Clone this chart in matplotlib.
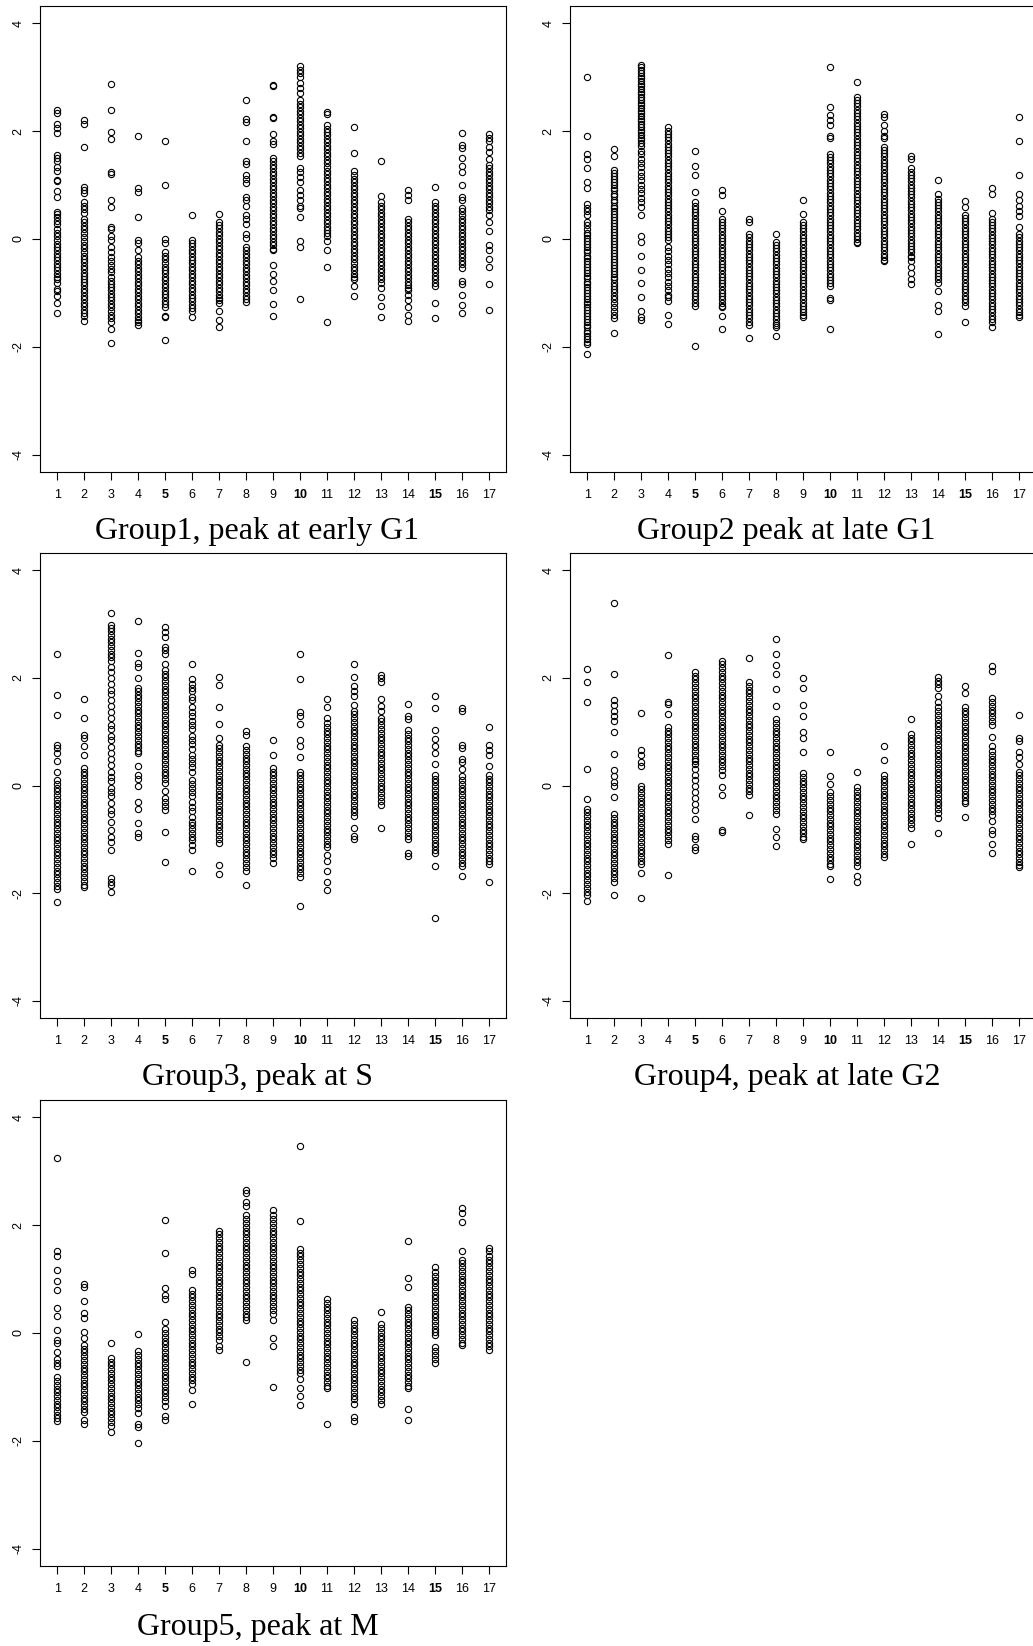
import matplotlib
matplotlib.use("Agg")
import matplotlib.pyplot as plt

plt.rcParams['font.family'] = ['Liberation Sans', 'DejaVu Sans']

# expression values per time point (17 columns)
group1 = [
    [2.40, 2.33, 2.14, 2.05, 1.96, 1.56, 1.50, 1.45, 1.33, 1.26, 1.10, 1.08, 0.89, 0.78, 0.50, 0.46, 0.41, 0.33, 0.27, 0.19, 0.12, 0.05, -0.02, -0.09, -0.15, -0.21, -0.28, -0.33, -0.39, -0.46, -0.52, -0.57, -0.64, -0.70, -0.75, -0.81, -0.92, -0.97, -1.06, -1.18, -1.38],
    [2.20, 2.14, 1.71, 0.97, 0.90, 0.85, 0.68, 0.62, 0.56, 0.49, 0.38, 0.31, 0.25, 0.19, 0.12, 0.03, -0.04, -0.11, -0.17, -0.24, -0.31, -0.37, -0.43, -0.50, -0.56, -0.63, -0.69, -0.74, -0.80, -0.86, -0.93, -0.99, -1.05, -1.12, -1.18, -1.24, -1.31, -1.37, -1.43, -1.52],
    [2.88, 2.39, 1.99, 1.85, 1.24, 1.20, 0.72, 0.60, 0.22, 0.19, 0.05, -0.01, -0.15, -0.25, -0.34, -0.41, -0.48, -0.55, -0.61, -0.71, -0.77, -0.83, -0.89, -0.95, -1.02, -1.08, -1.14, -1.21, -1.27, -1.33, -1.40, -1.47, -1.54, -1.67, -1.93],
    [1.91, 0.95, 0.88, 0.40, -0.01, -0.08, -0.21, -0.34, -0.41, -0.47, -0.54, -0.60, -0.67, -0.73, -0.80, -0.86, -0.92, -0.99, -1.05, -1.11, -1.18, -1.24, -1.31, -1.37, -1.44, -1.50, -1.54, -1.60],
    [1.82, 1.01, 0.00, -0.08, -0.25, -0.31, -0.38, -0.44, -0.51, -0.57, -0.63, -0.70, -0.76, -0.83, -0.89, -0.96, -1.02, -1.08, -1.15, -1.21, -1.27, -1.42, -1.44, -1.87],
    [0.45, -0.01, -0.07, -0.13, -0.20, -0.26, -0.33, -0.39, -0.45, -0.52, -0.58, -0.64, -0.71, -0.77, -0.84, -0.90, -0.96, -1.03, -1.09, -1.15, -1.22, -1.28, -1.34, -1.44],
    [0.47, 0.32, 0.26, 0.20, 0.13, 0.07, 0.00, -0.06, -0.13, -0.19, -0.26, -0.32, -0.39, -0.45, -0.52, -0.58, -0.64, -0.71, -0.77, -0.84, -0.90, -0.97, -1.03, -1.09, -1.14, -1.18, -1.34, -1.50, -1.64],
    [2.57, 2.22, 2.17, 1.82, 1.44, 1.39, 1.18, 1.11, 1.03, 0.78, 0.72, 0.62, 0.45, 0.37, 0.28, 0.09, 0.02, -0.15, -0.21, -0.28, -0.34, -0.41, -0.47, -0.54, -0.60, -0.67, -0.73, -0.80, -0.86, -0.93, -0.99, -1.06, -1.12, -1.16],
    [2.85, 2.83, 2.27, 2.24, 1.94, 1.81, 1.77, 1.51, 1.45, 1.38, 1.31, 1.25, 1.18, 1.12, 1.05, 0.99, 0.92, 0.86, 0.79, 0.72, 0.66, 0.59, 0.53, 0.46, 0.40, 0.33, 0.27, 0.20, 0.14, 0.07, 0.01, -0.06, -0.12, -0.19, -0.21, -0.48, -0.64, -0.77, -0.95, -1.21, -1.42],
    [3.20, 3.13, 3.07, 3.00, 2.89, 2.80, 2.70, 2.57, 2.51, 2.44, 2.38, 2.31, 2.25, 2.18, 2.12, 2.05, 1.99, 1.92, 1.86, 1.79, 1.73, 1.66, 1.60, 1.53, 1.31, 1.25, 1.15, 1.05, 0.91, 0.81, 0.72, 0.62, 0.58, 0.40, -0.03, -0.15, -1.12],
    [2.35, 2.32, 2.11, 2.04, 1.98, 1.92, 1.85, 1.79, 1.72, 1.66, 1.59, 1.53, 1.46, 1.40, 1.33, 1.27, 1.20, 1.14, 1.07, 1.01, 0.94, 0.88, 0.81, 0.75, 0.68, 0.62, 0.55, 0.49, 0.42, 0.36, 0.29, 0.23, 0.16, 0.12, 0.05, -0.03, -0.21, -0.51, -1.54],
    [2.07, 1.59, 1.26, 1.18, 1.12, 1.05, 0.99, 0.92, 0.86, 0.79, 0.73, 0.66, 0.60, 0.53, 0.47, 0.40, 0.34, 0.27, 0.21, 0.14, 0.08, 0.01, -0.05, -0.12, -0.18, -0.25, -0.31, -0.38, -0.44, -0.51, -0.57, -0.64, -0.70, -0.74, -0.87, -1.06],
    [1.44, 0.80, 0.68, 0.62, 0.55, 0.49, 0.42, 0.36, 0.29, 0.23, 0.16, 0.10, 0.03, -0.03, -0.10, -0.16, -0.23, -0.29, -0.36, -0.42, -0.49, -0.55, -0.62, -0.68, -0.75, -0.81, -0.91, -1.07, -1.24, -1.44],
    [0.91, 0.81, 0.72, 0.38, 0.32, 0.25, 0.19, 0.12, 0.06, -0.01, -0.07, -0.14, -0.20, -0.27, -0.33, -0.40, -0.46, -0.53, -0.59, -0.66, -0.72, -0.79, -0.85, -0.91, -0.94, -1.04, -1.14, -1.26, -1.40, -1.52],
    [0.97, 0.68, 0.62, 0.55, 0.49, 0.42, 0.36, 0.29, 0.23, 0.16, 0.10, 0.03, -0.03, -0.10, -0.16, -0.23, -0.29, -0.36, -0.42, -0.49, -0.55, -0.62, -0.68, -0.75, -0.81, -0.87, -1.19, -1.46],
    [1.96, 1.74, 1.68, 1.51, 1.36, 1.25, 1.01, 0.78, 0.72, 0.58, 0.51, 0.45, 0.38, 0.32, 0.25, 0.19, 0.12, 0.06, -0.01, -0.07, -0.14, -0.20, -0.27, -0.33, -0.40, -0.46, -0.54, -0.77, -0.84, -1.04, -1.22, -1.37],
    [1.95, 1.87, 1.81, 1.71, 1.61, 1.48, 1.38, 1.31, 1.25, 1.18, 1.12, 1.05, 0.99, 0.92, 0.86, 0.79, 0.73, 0.66, 0.60, 0.53, 0.45, 0.32, 0.15, -0.11, -0.21, -0.38, -0.51, -0.84, -1.32],
]

group2 = [
    [3.01, 1.91, 1.58, 1.48, 1.32, 1.05, 0.95, 0.64, 0.58, 0.52, 0.45, 0.32, 0.26, 0.19, 0.12, 0.07, 0.02, -0.04, -0.09, -0.15, -0.20, -0.25, -0.31, -0.36, -0.41, -0.47, -0.52, -0.57, -0.63, -0.68, -0.73, -0.79, -0.84, -0.89, -0.95, -1.00, -1.05, -1.11, -1.16, -1.21, -1.27, -1.32, -1.38, -1.43, -1.48, -1.54, -1.59, -1.64, -1.70, -1.75, -1.80, -1.86, -1.91, -1.95, -2.13],
    [1.66, 1.53, 1.28, 1.23, 1.17, 1.12, 1.06, 1.01, 0.95, 0.90, 0.84, 0.79, 0.73, 0.68, 0.62, 0.57, 0.51, 0.46, 0.40, 0.35, 0.29, 0.24, 0.18, 0.13, 0.07, 0.02, -0.04, -0.09, -0.15, -0.20, -0.26, -0.31, -0.37, -0.42, -0.48, -0.53, -0.59, -0.64, -0.70, -0.75, -0.81, -0.87, -0.93, -0.98, -1.05, -1.12, -1.19, -1.26, -1.33, -1.40, -1.47, -1.74],
    [3.23, 3.18, 3.13, 3.08, 3.03, 2.98, 2.93, 2.88, 2.83, 2.78, 2.73, 2.68, 2.63, 2.58, 2.53, 2.48, 2.43, 2.38, 2.33, 2.28, 2.23, 2.18, 2.13, 2.08, 2.03, 1.98, 1.93, 1.88, 1.83, 1.78, 1.73, 1.64, 1.57, 1.49, 1.41, 1.33, 1.25, 1.17, 1.09, 1.01, 0.93, 0.85, 0.76, 0.68, 0.60, 0.45, 0.05, -0.05, -0.31, -0.58, -0.81, -1.07, -1.34, -1.44, -1.50],
    [2.07, 2.01, 1.95, 1.89, 1.83, 1.77, 1.71, 1.65, 1.59, 1.53, 1.47, 1.41, 1.35, 1.29, 1.23, 1.17, 1.11, 1.05, 0.99, 0.93, 0.87, 0.81, 0.75, 0.69, 0.63, 0.57, 0.51, 0.45, 0.39, 0.33, 0.27, 0.21, 0.15, 0.09, 0.03, -0.01, -0.15, -0.23, -0.31, -0.39, -0.47, -0.55, -0.63, -0.71, -0.79, -0.87, -0.95, -1.03, -1.07, -1.15, -1.40, -1.57],
    [1.64, 1.36, 1.19, 0.88, 0.68, 0.62, 0.56, 0.50, 0.44, 0.38, 0.32, 0.26, 0.20, 0.14, 0.08, 0.02, -0.04, -0.10, -0.16, -0.22, -0.28, -0.34, -0.40, -0.46, -0.52, -0.58, -0.64, -0.70, -0.76, -0.82, -0.88, -0.94, -1.00, -1.06, -1.12, -1.18, -1.24, -1.99],
    [0.91, 0.81, 0.52, 0.38, 0.32, 0.26, 0.20, 0.14, 0.08, 0.02, -0.04, -0.10, -0.16, -0.22, -0.28, -0.34, -0.40, -0.46, -0.52, -0.58, -0.64, -0.70, -0.76, -0.82, -0.88, -0.94, -1.00, -1.06, -1.12, -1.18, -1.24, -1.27, -1.42, -1.67],
    [0.38, 0.32, 0.09, 0.03, -0.03, -0.09, -0.15, -0.21, -0.27, -0.33, -0.39, -0.45, -0.51, -0.57, -0.63, -0.69, -0.75, -0.81, -0.87, -0.93, -0.99, -1.05, -1.11, -1.17, -1.23, -1.29, -1.35, -1.41, -1.47, -1.53, -1.60, -1.83],
    [0.09, -0.05, -0.11, -0.17, -0.23, -0.29, -0.35, -0.41, -0.47, -0.53, -0.59, -0.65, -0.71, -0.77, -0.83, -0.89, -0.95, -1.01, -1.07, -1.13, -1.19, -1.25, -1.31, -1.37, -1.43, -1.49, -1.55, -1.60, -1.64, -1.79],
    [0.72, 0.47, 0.32, 0.26, 0.20, 0.14, 0.08, 0.02, -0.04, -0.10, -0.16, -0.22, -0.28, -0.34, -0.40, -0.46, -0.52, -0.58, -0.64, -0.70, -0.76, -0.82, -0.88, -0.94, -1.00, -1.06, -1.12, -1.18, -1.24, -1.30, -1.36, -1.41, -1.44],
    [3.19, 2.44, 2.30, 2.21, 2.11, 1.91, 1.87, 1.58, 1.52, 1.46, 1.40, 1.34, 1.28, 1.22, 1.16, 1.10, 1.04, 0.98, 0.92, 0.86, 0.80, 0.74, 0.68, 0.62, 0.56, 0.50, 0.44, 0.38, 0.32, 0.26, 0.20, 0.14, 0.08, 0.02, -0.04, -0.10, -0.16, -0.22, -0.28, -0.34, -0.40, -0.46, -0.52, -0.58, -0.64, -0.70, -0.76, -0.82, -0.87, -1.09, -1.14, -1.67],
    [2.91, 2.64, 2.58, 2.52, 2.46, 2.40, 2.34, 2.28, 2.22, 2.16, 2.10, 2.04, 1.98, 1.92, 1.86, 1.80, 1.74, 1.68, 1.62, 1.56, 1.50, 1.44, 1.38, 1.32, 1.26, 1.20, 1.14, 1.08, 1.02, 0.96, 0.90, 0.84, 0.78, 0.72, 0.66, 0.60, 0.54, 0.48, 0.42, 0.36, 0.30, 0.24, 0.18, 0.12, 0.06, 0.00, -0.05, -0.08],
    [2.32, 2.27, 2.11, 2.01, 1.91, 1.87, 1.71, 1.65, 1.59, 1.53, 1.47, 1.41, 1.35, 1.29, 1.23, 1.17, 1.11, 1.05, 0.99, 0.93, 0.87, 0.81, 0.75, 0.69, 0.63, 0.57, 0.51, 0.45, 0.39, 0.33, 0.27, 0.21, 0.15, 0.09, 0.03, -0.03, -0.09, -0.15, -0.21, -0.27, -0.33, -0.39, -0.41],
    [1.54, 1.48, 1.31, 1.25, 1.19, 1.13, 1.07, 1.01, 0.95, 0.89, 0.83, 0.77, 0.71, 0.65, 0.59, 0.53, 0.47, 0.41, 0.35, 0.29, 0.23, 0.17, 0.11, 0.05, -0.01, -0.07, -0.13, -0.19, -0.25, -0.31, -0.34, -0.41, -0.52, -0.63, -0.74, -0.84],
    [1.09, 0.83, 0.75, 0.69, 0.63, 0.57, 0.51, 0.45, 0.39, 0.33, 0.27, 0.21, 0.15, 0.09, 0.03, -0.03, -0.09, -0.15, -0.21, -0.27, -0.33, -0.39, -0.45, -0.51, -0.57, -0.63, -0.69, -0.75, -0.81, -0.97, -1.22, -1.34, -1.77],
    [0.70, 0.60, 0.45, 0.39, 0.33, 0.27, 0.21, 0.15, 0.09, 0.03, -0.03, -0.09, -0.15, -0.21, -0.27, -0.33, -0.39, -0.45, -0.51, -0.57, -0.63, -0.69, -0.75, -0.81, -0.87, -0.93, -0.99, -1.05, -1.11, -1.17, -1.24, -1.54],
    [0.95, 0.83, 0.48, 0.38, 0.32, 0.26, 0.20, 0.14, 0.08, 0.02, -0.04, -0.10, -0.16, -0.22, -0.28, -0.34, -0.40, -0.46, -0.52, -0.58, -0.64, -0.70, -0.76, -0.82, -0.88, -0.94, -1.00, -1.06, -1.12, -1.18, -1.24, -1.30, -1.36, -1.42, -1.48, -1.54, -1.64],
    [2.27, 1.82, 1.19, 0.83, 0.72, 0.62, 0.52, 0.42, 0.22, 0.09, 0.03, -0.03, -0.09, -0.15, -0.21, -0.27, -0.33, -0.39, -0.45, -0.51, -0.57, -0.63, -0.69, -0.75, -0.81, -0.87, -0.93, -0.99, -1.05, -1.11, -1.17, -1.23, -1.29, -1.35, -1.41, -1.44],
]

group3 = [
    [2.44, 1.69, 1.31, 0.76, 0.70, 0.60, 0.46, 0.26, 0.10, 0.03, -0.04, -0.11, -0.18, -0.25, -0.32, -0.39, -0.46, -0.53, -0.60, -0.67, -0.74, -0.81, -0.88, -0.95, -1.02, -1.09, -1.16, -1.23, -1.30, -1.37, -1.44, -1.51, -1.58, -1.65, -1.72, -1.79, -1.86, -1.92, -2.17],
    [1.61, 1.25, 0.94, 0.89, 0.73, 0.56, 0.33, 0.26, 0.19, 0.12, 0.05, -0.02, -0.09, -0.16, -0.23, -0.30, -0.37, -0.44, -0.51, -0.58, -0.65, -0.72, -0.79, -0.86, -0.93, -1.00, -1.07, -1.14, -1.21, -1.28, -1.35, -1.42, -1.49, -1.56, -1.63, -1.70, -1.77, -1.84, -1.89],
    [3.21, 2.98, 2.93, 2.87, 2.80, 2.73, 2.66, 2.59, 2.52, 2.45, 2.38, 2.32, 2.21, 2.10, 1.99, 1.88, 1.77, 1.70, 1.59, 1.48, 1.37, 1.26, 1.13, 1.05, 0.92, 0.85, 0.71, 0.60, 0.50, 0.38, 0.26, 0.15, 0.09, -0.05, -0.13, -0.20, -0.32, -0.45, -0.53, -0.68, -0.82, -0.95, -1.05, -1.19, -1.72, -1.79, -1.84, -1.97],
    [3.05, 2.46, 2.28, 2.21, 1.99, 1.82, 1.76, 1.69, 1.62, 1.55, 1.48, 1.41, 1.34, 1.27, 1.20, 1.13, 1.06, 0.99, 0.92, 0.85, 0.78, 0.71, 0.64, 0.60, 0.36, 0.20, 0.13, -0.01, -0.30, -0.43, -0.70, -0.89, -0.96],
    [2.95, 2.86, 2.75, 2.58, 2.52, 2.45, 2.25, 2.15, 2.08, 2.01, 1.94, 1.87, 1.80, 1.73, 1.66, 1.59, 1.52, 1.45, 1.38, 1.31, 1.24, 1.17, 1.10, 1.03, 0.96, 0.89, 0.82, 0.75, 0.68, 0.61, 0.54, 0.47, 0.40, 0.33, 0.26, 0.19, 0.12, 0.05, -0.10, -0.24, -0.31, -0.38, -0.46, -0.87, -1.42],
    [2.25, 1.97, 1.89, 1.82, 1.75, 1.65, 1.58, 1.45, 1.37, 1.30, 1.20, 1.12, 1.05, 0.92, 0.85, 0.78, 0.68, 0.57, 0.50, 0.42, 0.35, 0.25, 0.10, 0.02, -0.05, -0.12, -0.20, -0.30, -0.40, -0.48, -0.58, -0.67, -0.73, -0.80, -0.88, -0.95, -1.02, -1.10, -1.19, -1.59],
    [2.02, 1.87, 1.46, 1.14, 0.89, 0.76, 0.69, 0.62, 0.55, 0.48, 0.41, 0.34, 0.27, 0.20, 0.13, 0.06, -0.01, -0.08, -0.15, -0.22, -0.29, -0.36, -0.43, -0.50, -0.57, -0.64, -0.71, -0.78, -0.85, -0.92, -0.99, -1.06, -1.48, -1.64],
    [1.01, 0.93, 0.73, 0.66, 0.59, 0.52, 0.45, 0.38, 0.31, 0.24, 0.17, 0.10, 0.03, -0.04, -0.11, -0.18, -0.25, -0.32, -0.39, -0.46, -0.53, -0.60, -0.67, -0.74, -0.81, -0.88, -0.95, -1.02, -1.09, -1.16, -1.23, -1.30, -1.37, -1.44, -1.51, -1.58, -1.84],
    [0.84, 0.56, 0.33, 0.26, 0.19, 0.12, 0.05, -0.02, -0.09, -0.16, -0.23, -0.30, -0.37, -0.44, -0.51, -0.58, -0.65, -0.72, -0.79, -0.86, -0.93, -1.00, -1.07, -1.14, -1.21, -1.28, -1.35, -1.44],
    [2.44, 1.97, 1.36, 1.29, 1.14, 0.84, 0.73, 0.53, 0.26, 0.19, 0.12, 0.05, -0.02, -0.09, -0.16, -0.23, -0.30, -0.37, -0.44, -0.51, -0.58, -0.65, -0.72, -0.79, -0.86, -0.93, -1.00, -1.07, -1.14, -1.21, -1.28, -1.35, -1.42, -1.49, -1.56, -1.63, -1.70, -2.23],
    [1.61, 1.46, 1.26, 1.16, 1.09, 1.02, 0.95, 0.88, 0.81, 0.74, 0.67, 0.60, 0.53, 0.46, 0.39, 0.32, 0.25, 0.18, 0.11, 0.04, -0.03, -0.10, -0.17, -0.24, -0.31, -0.38, -0.45, -0.52, -0.59, -0.66, -0.73, -0.80, -0.87, -0.94, -1.01, -1.08, -1.15, -1.30, -1.40, -1.59, -1.79, -1.94],
    [2.25, 2.02, 1.85, 1.75, 1.66, 1.49, 1.39, 1.32, 1.25, 1.18, 1.11, 1.04, 0.97, 0.90, 0.83, 0.76, 0.69, 0.62, 0.55, 0.48, 0.41, 0.34, 0.27, 0.20, 0.13, 0.06, -0.01, -0.08, -0.15, -0.22, -0.29, -0.36, -0.43, -0.50, -0.57, -0.79, -0.93, -0.99],
    [2.05, 1.99, 1.92, 1.61, 1.47, 1.39, 1.26, 1.19, 1.12, 1.05, 0.98, 0.91, 0.84, 0.77, 0.70, 0.63, 0.56, 0.49, 0.42, 0.35, 0.28, 0.21, 0.14, 0.07, 0.00, -0.07, -0.14, -0.21, -0.28, -0.36, -0.79],
    [1.51, 1.29, 1.23, 1.03, 0.96, 0.89, 0.82, 0.75, 0.68, 0.61, 0.54, 0.47, 0.40, 0.33, 0.26, 0.19, 0.12, 0.05, -0.02, -0.09, -0.16, -0.23, -0.30, -0.37, -0.44, -0.51, -0.58, -0.65, -0.72, -0.79, -0.86, -0.93, -0.99, -1.26, -1.31],
    [1.66, 1.44, 1.03, 0.86, 0.73, 0.60, 0.40, 0.20, 0.13, 0.06, -0.01, -0.08, -0.15, -0.22, -0.29, -0.36, -0.43, -0.50, -0.57, -0.64, -0.71, -0.78, -0.85, -0.92, -0.99, -1.06, -1.13, -1.20, -1.26, -1.49, -2.47],
    [1.44, 1.39, 0.76, 0.70, 0.50, 0.43, 0.30, 0.17, 0.10, 0.03, -0.04, -0.11, -0.18, -0.25, -0.32, -0.39, -0.46, -0.53, -0.60, -0.67, -0.74, -0.81, -0.88, -0.95, -1.02, -1.09, -1.16, -1.23, -1.30, -1.37, -1.44, -1.49, -1.69],
    [1.08, 0.75, 0.66, 0.56, 0.36, 0.20, 0.13, 0.06, -0.01, -0.08, -0.15, -0.22, -0.29, -0.36, -0.43, -0.50, -0.57, -0.64, -0.71, -0.78, -0.85, -0.92, -0.99, -1.06, -1.13, -1.20, -1.27, -1.34, -1.41, -1.46, -1.79],
]

group4 = [
    [2.17, 1.92, 1.56, 0.30, -0.26, -0.43, -0.50, -0.57, -0.64, -0.71, -0.78, -0.85, -0.92, -0.99, -1.06, -1.13, -1.20, -1.27, -1.34, -1.41, -1.48, -1.55, -1.62, -1.69, -1.76, -1.83, -1.90, -1.97, -2.04, -2.15],
    [3.40, 2.07, 1.59, 1.49, 1.39, 1.29, 1.19, 0.99, 0.58, 0.28, 0.17, 0.07, 0.00, -0.21, -0.53, -0.60, -0.67, -0.74, -0.81, -0.88, -0.95, -1.02, -1.09, -1.16, -1.23, -1.30, -1.37, -1.44, -1.51, -1.58, -1.65, -1.72, -1.79, -2.04],
    [1.34, 0.66, 0.56, 0.43, 0.36, 0.00, -0.07, -0.14, -0.21, -0.28, -0.35, -0.42, -0.49, -0.56, -0.63, -0.70, -0.77, -0.84, -0.91, -0.98, -1.05, -1.12, -1.19, -1.26, -1.33, -1.40, -1.46, -1.62, -2.09],
    [2.42, 1.56, 1.51, 1.32, 1.09, 1.02, 0.95, 0.88, 0.81, 0.74, 0.67, 0.60, 0.53, 0.46, 0.39, 0.32, 0.25, 0.18, 0.11, 0.04, -0.03, -0.10, -0.17, -0.24, -0.31, -0.38, -0.45, -0.52, -0.59, -0.66, -0.73, -0.80, -0.87, -0.94, -1.01, -1.09, -1.66],
    [2.11, 2.04, 1.97, 1.90, 1.83, 1.76, 1.69, 1.62, 1.55, 1.48, 1.41, 1.34, 1.27, 1.20, 1.13, 1.06, 0.99, 0.92, 0.85, 0.78, 0.71, 0.64, 0.57, 0.50, 0.46, 0.40, 0.30, 0.20, 0.10, 0.00, -0.12, -0.23, -0.34, -0.46, -0.63, -0.93, -0.99, -1.14, -1.19],
    [2.32, 2.25, 2.18, 2.11, 2.04, 1.97, 1.90, 1.83, 1.76, 1.69, 1.62, 1.55, 1.48, 1.41, 1.34, 1.27, 1.20, 1.13, 1.06, 0.99, 0.92, 0.85, 0.78, 0.71, 0.64, 0.57, 0.50, 0.43, 0.36, 0.29, 0.20, -0.03, -0.17, -0.83, -0.87],
    [2.37, 1.92, 1.85, 1.78, 1.71, 1.64, 1.57, 1.50, 1.43, 1.36, 1.29, 1.22, 1.15, 1.08, 1.01, 0.94, 0.87, 0.80, 0.73, 0.66, 0.59, 0.52, 0.45, 0.38, 0.31, 0.24, 0.17, 0.10, 0.03, -0.04, -0.11, -0.17, -0.54],
    [2.72, 2.45, 2.24, 2.07, 1.79, 1.48, 1.23, 1.16, 1.09, 1.02, 0.95, 0.88, 0.81, 0.74, 0.67, 0.60, 0.53, 0.46, 0.39, 0.32, 0.25, 0.18, 0.11, 0.04, -0.03, -0.10, -0.17, -0.24, -0.31, -0.38, -0.45, -0.53, -0.81, -0.96, -1.13],
    [2.00, 1.82, 1.49, 1.30, 0.99, 0.89, 0.63, 0.23, 0.16, 0.09, 0.02, -0.05, -0.12, -0.19, -0.26, -0.33, -0.40, -0.47, -0.54, -0.61, -0.68, -0.75, -0.82, -0.89, -0.96, -0.99],
    [0.62, 0.17, 0.03, -0.13, -0.20, -0.27, -0.34, -0.41, -0.48, -0.55, -0.62, -0.69, -0.76, -0.83, -0.90, -0.97, -1.04, -1.11, -1.18, -1.25, -1.32, -1.39, -1.45, -1.49, -1.74],
    [0.26, -0.03, -0.10, -0.17, -0.24, -0.31, -0.38, -0.45, -0.52, -0.59, -0.66, -0.73, -0.80, -0.87, -0.94, -1.01, -1.08, -1.15, -1.22, -1.29, -1.36, -1.43, -1.49, -1.69, -1.80],
    [0.73, 0.48, 0.20, 0.13, 0.06, -0.01, -0.08, -0.15, -0.22, -0.29, -0.36, -0.43, -0.50, -0.57, -0.64, -0.71, -0.78, -0.85, -0.92, -0.99, -1.06, -1.13, -1.20, -1.27, -1.32],
    [1.23, 0.96, 0.89, 0.82, 0.75, 0.68, 0.61, 0.54, 0.47, 0.40, 0.33, 0.26, 0.19, 0.12, 0.05, -0.02, -0.09, -0.16, -0.23, -0.30, -0.37, -0.44, -0.51, -0.58, -0.65, -0.72, -0.79, -1.09],
    [2.02, 1.95, 1.88, 1.81, 1.66, 1.55, 1.45, 1.38, 1.31, 1.24, 1.17, 1.10, 1.03, 0.96, 0.89, 0.82, 0.75, 0.68, 0.61, 0.54, 0.47, 0.40, 0.33, 0.26, 0.19, 0.12, 0.05, -0.02, -0.09, -0.16, -0.23, -0.30, -0.37, -0.44, -0.51, -0.60, -0.89],
    [1.84, 1.72, 1.46, 1.39, 1.32, 1.25, 1.18, 1.11, 1.04, 0.97, 0.90, 0.83, 0.76, 0.69, 0.62, 0.55, 0.48, 0.41, 0.34, 0.27, 0.20, 0.13, 0.06, -0.01, -0.08, -0.15, -0.22, -0.29, -0.33, -0.58],
    [2.22, 2.13, 1.62, 1.55, 1.48, 1.41, 1.34, 1.27, 1.20, 1.13, 0.90, 0.73, 0.64, 0.57, 0.50, 0.43, 0.36, 0.29, 0.22, 0.15, 0.08, 0.01, -0.06, -0.13, -0.20, -0.27, -0.34, -0.41, -0.48, -0.55, -0.66, -0.83, -0.90, -1.09, -1.26],
    [1.31, 0.89, 0.83, 0.63, 0.53, 0.40, 0.26, 0.19, 0.12, 0.05, -0.02, -0.09, -0.16, -0.23, -0.30, -0.37, -0.44, -0.51, -0.58, -0.65, -0.72, -0.79, -0.86, -0.93, -1.00, -1.07, -1.14, -1.21, -1.28, -1.35, -1.42, -1.48, -1.52],
]

group5 = [
    [3.24, 1.52, 1.43, 1.16, 0.96, 0.80, 0.47, 0.32, 0.06, -0.13, -0.19, -0.36, -0.49, -0.55, -0.62, -0.82, -0.89, -0.96, -1.03, -1.10, -1.17, -1.24, -1.31, -1.38, -1.45, -1.52, -1.58, -1.64],
    [0.91, 0.86, 0.59, 0.37, 0.27, 0.01, -0.09, -0.22, -0.29, -0.36, -0.43, -0.50, -0.57, -0.64, -0.71, -0.78, -0.85, -0.92, -0.99, -1.06, -1.13, -1.20, -1.27, -1.34, -1.41, -1.46, -1.61, -1.68],
    [-0.19, -0.46, -0.53, -0.60, -0.67, -0.74, -0.81, -0.88, -0.95, -1.02, -1.09, -1.16, -1.23, -1.30, -1.37, -1.44, -1.51, -1.58, -1.65, -1.72, -1.84],
    [-0.01, -0.34, -0.41, -0.48, -0.55, -0.62, -0.69, -0.76, -0.83, -0.90, -0.97, -1.04, -1.11, -1.18, -1.25, -1.32, -1.39, -1.48, -1.68, -1.74, -2.04],
    [2.10, 1.49, 0.83, 0.70, 0.63, 0.20, 0.07, 0.00, -0.07, -0.14, -0.21, -0.28, -0.35, -0.42, -0.49, -0.56, -0.63, -0.70, -0.77, -0.84, -0.91, -0.98, -1.05, -1.12, -1.19, -1.26, -1.35, -1.54, -1.61],
    [1.16, 1.10, 0.80, 0.73, 0.66, 0.59, 0.52, 0.45, 0.38, 0.31, 0.24, 0.17, 0.10, 0.03, -0.04, -0.11, -0.18, -0.25, -0.32, -0.39, -0.46, -0.53, -0.60, -0.67, -0.74, -0.81, -0.88, -0.95, -1.05, -1.31],
    [1.90, 1.83, 1.76, 1.69, 1.62, 1.55, 1.48, 1.41, 1.34, 1.27, 1.20, 1.13, 1.06, 0.99, 0.92, 0.85, 0.78, 0.71, 0.64, 0.57, 0.50, 0.43, 0.36, 0.29, 0.22, 0.15, 0.08, 0.01, -0.06, -0.13, -0.25, -0.32],
    [2.66, 2.59, 2.42, 2.35, 2.18, 2.11, 2.04, 1.97, 1.90, 1.83, 1.76, 1.69, 1.62, 1.55, 1.48, 1.41, 1.34, 1.27, 1.20, 1.13, 1.06, 0.99, 0.92, 0.85, 0.78, 0.71, 0.64, 0.57, 0.50, 0.43, 0.36, 0.29, 0.24, -0.54],
    [2.28, 2.18, 2.11, 2.04, 1.97, 1.90, 1.83, 1.76, 1.69, 1.62, 1.55, 1.48, 1.41, 1.34, 1.27, 1.20, 1.13, 1.06, 0.99, 0.92, 0.85, 0.78, 0.71, 0.64, 0.57, 0.50, 0.43, 0.36, 0.24, -0.09, -0.24, -1.00],
    [3.46, 2.07, 1.56, 1.49, 1.42, 1.35, 1.28, 1.21, 1.14, 1.07, 1.00, 0.93, 0.86, 0.79, 0.72, 0.65, 0.58, 0.51, 0.44, 0.37, 0.30, 0.23, 0.16, 0.09, 0.02, -0.05, -0.12, -0.19, -0.26, -0.33, -0.40, -0.47, -0.54, -0.61, -0.68, -0.75, -0.85, -1.02, -1.16, -1.33],
    [0.63, 0.56, 0.49, 0.42, 0.35, 0.28, 0.21, 0.14, 0.07, 0.00, -0.07, -0.14, -0.21, -0.28, -0.35, -0.42, -0.49, -0.56, -0.63, -0.70, -0.77, -0.84, -0.91, -0.98, -1.02, -1.68],
    [0.25, 0.17, 0.10, 0.03, -0.04, -0.11, -0.18, -0.25, -0.32, -0.39, -0.46, -0.53, -0.60, -0.67, -0.74, -0.81, -0.88, -0.95, -1.02, -1.09, -1.16, -1.23, -1.31, -1.56, -1.64],
    [0.39, 0.16, 0.09, 0.02, -0.05, -0.12, -0.19, -0.26, -0.33, -0.40, -0.47, -0.54, -0.61, -0.68, -0.75, -0.82, -0.89, -0.96, -1.03, -1.10, -1.17, -1.24, -1.31],
    [1.70, 1.02, 0.86, 0.49, 0.42, 0.35, 0.28, 0.21, 0.14, 0.07, 0.00, -0.07, -0.14, -0.21, -0.28, -0.35, -0.42, -0.49, -0.56, -0.63, -0.70, -0.77, -0.84, -0.91, -0.98, -1.02, -1.40, -1.62],
    [1.23, 1.13, 1.06, 0.99, 0.92, 0.85, 0.78, 0.71, 0.64, 0.57, 0.50, 0.43, 0.36, 0.29, 0.22, 0.15, 0.08, 0.01, -0.03, -0.26, -0.33, -0.40, -0.48, -0.55],
    [2.32, 2.22, 2.05, 1.52, 1.36, 1.29, 1.22, 1.15, 1.08, 1.01, 0.94, 0.87, 0.80, 0.73, 0.66, 0.59, 0.52, 0.45, 0.38, 0.31, 0.24, 0.17, 0.10, 0.03, -0.04, -0.11, -0.18, -0.22],
    [1.58, 1.52, 1.43, 1.36, 1.29, 1.22, 1.15, 1.08, 1.01, 0.94, 0.87, 0.80, 0.73, 0.66, 0.59, 0.52, 0.45, 0.38, 0.31, 0.24, 0.17, 0.10, 0.03, -0.04, -0.11, -0.18, -0.25, -0.32],
]

titles = ["Group1, peak at early G1", "Group2 peak at late G1", "Group3, peak at S",
          "Group4, peak at late G2", "Group5, peak at M"]
time_points = list(range(1, 18))
y_ticks = [-4, -2, 0, 2, 4]

W, H = 1033, 1646
fig = plt.figure(figsize=(W / 100, H / 100), dpi=100)

# (left px, top px, bottom px, title x px, title baseline px)
layout = [
    (40, 6, 472, 257, 539),
    (570, 6, 472, 786, 539),
    (40, 553, 1018, 257, 1085),
    (570, 553, 1018, 787, 1085),
    (40, 1100, 1566, 258, 1635),
]
groups = [group1, group2, group3, group4, group5]

for data, title, (lx, top, bot, tx, ty) in zip(groups, titles, layout):
    ax = fig.add_axes([lx / W, 1 - bot / H, 466 / W, (bot - top) / H])
    for t, col in zip(time_points, data):
        ax.plot([t] * len(col), col, 'o', mfc='none', mec='black', ms=4.5, mew=0.8)
    ax.set_xlim(0.36, 17.64)
    ax.set_ylim(-4.32, 4.32)
    ax.set_xticks(time_points)
    ax.set_yticks(y_ticks)
    ax.set_yticklabels([str(v) for v in y_ticks], rotation=90, va='center')
    ax.tick_params(direction='out', length=6, width=0.8, labelsize=9, pad=6.3, colors='black')
    ax.tick_params(axis='y', pad=5)
    for lab in ax.get_xticklabels():
        if lab.get_text() in ('5', '10', '15'):
            lab.set_fontweight('bold')
    for sp in ax.spines.values():
        sp.set_linewidth(0.8)
    fig.text(tx / W, 1 - ty / H, title, family='Liberation Serif', fontsize=23,
             ha='center', va='baseline')

fig.savefig('out.png', dpi=100)
